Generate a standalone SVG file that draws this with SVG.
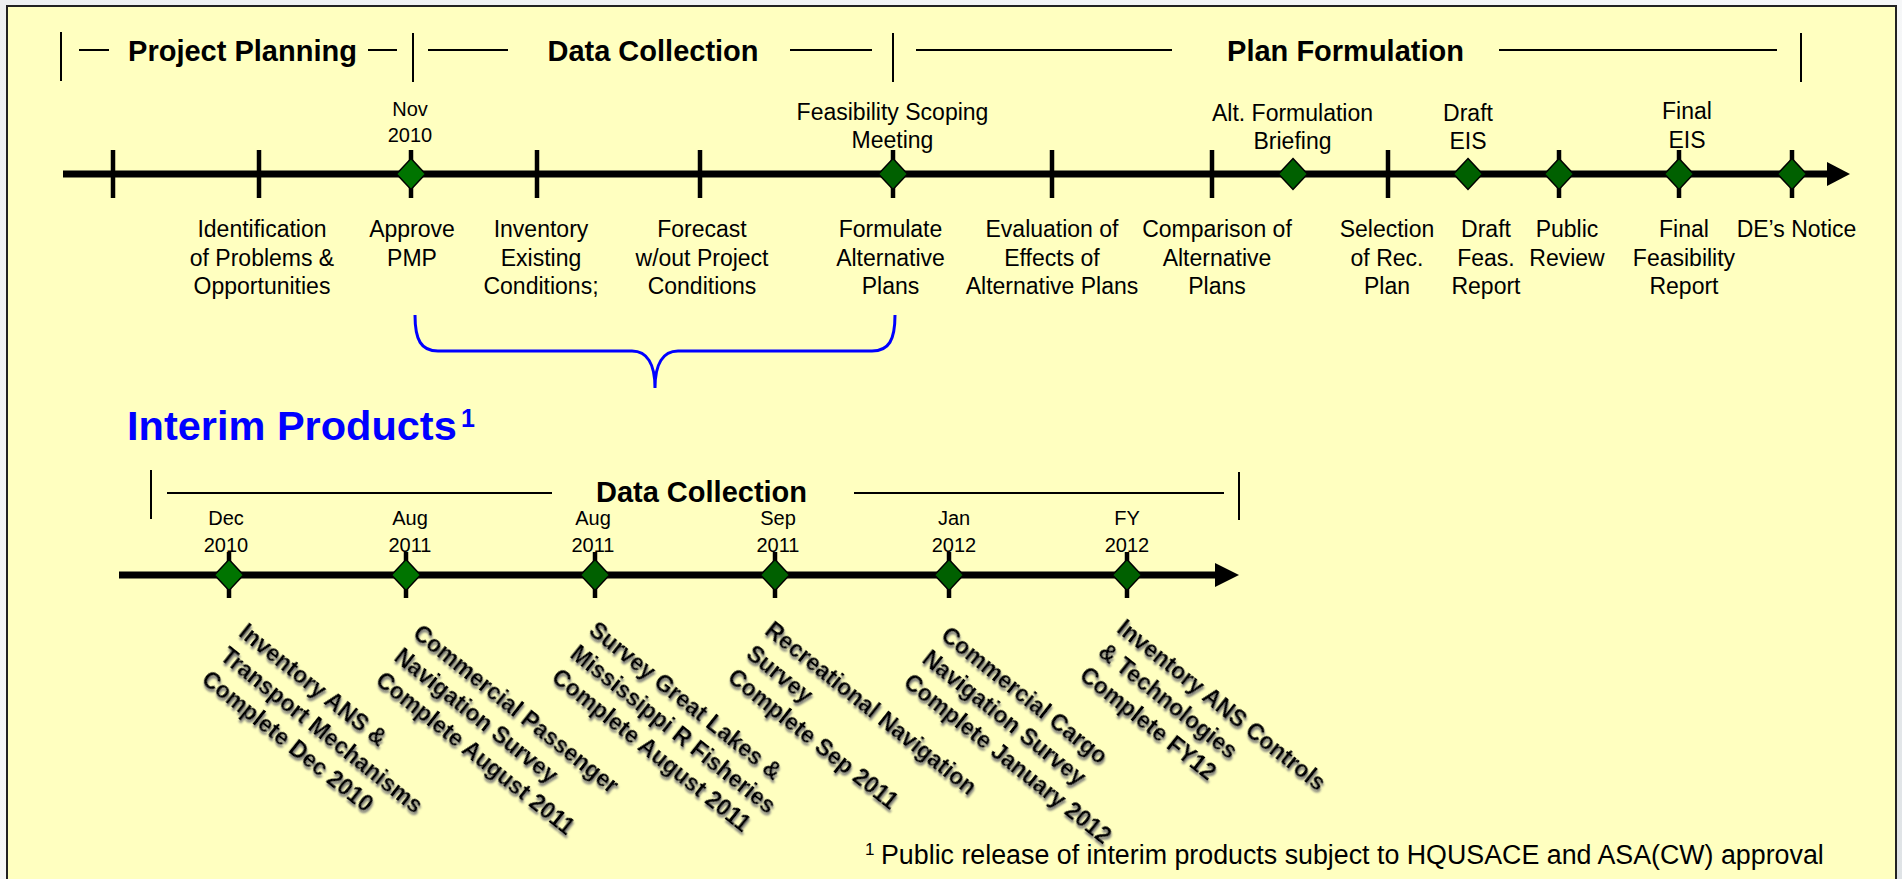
<svg xmlns="http://www.w3.org/2000/svg" xmlns:xlink="http://www.w3.org/1999/xlink" width="1902" height="879" viewBox="0 0 1902 879">
<style>
text{font-family:"Liberation Sans",Arial,sans-serif;fill:#000}
.lbl{font-size:23px;text-anchor:middle}
.date{font-size:20px;text-anchor:middle}
.hdr{font-size:29px;font-weight:bold;text-anchor:middle}
.axis{stroke:#000;stroke-width:7;fill:none}
.tick{stroke:#000;stroke-width:4.5}
.brk{stroke:#000;stroke-width:2}
.dia{fill:#006000;stroke:#000;stroke-width:1.5}
.dia2{fill:#007400;stroke:#000;stroke-width:1.5}
.rot{font-size:23px;font-weight:bold;filter:url(#sh)}
.blue{fill:#0000FF;font-weight:bold}
</style>
<defs>
<linearGradient id="bg" x1="0" y1="0" x2="1" y2="1">
<stop offset="0" stop-color="#eef0f2"/><stop offset="0.5" stop-color="#f6f7f8"/><stop offset="1" stop-color="#dfe3e6"/>
</linearGradient>
<path id="dm" d="M0,-15.5 L14.5,0 L0,15.5 L-14.5,0 Z"/>
<filter id="sh" x="-10%" y="-30%" width="130%" height="180%">
<feGaussianBlur in="SourceAlpha" stdDeviation="1.2" result="b"/>
<feOffset in="b" dx="2" dy="2" result="o"/>
<feFlood flood-color="#777"/>
<feComposite in2="o" operator="in" result="s"/>
<feMerge><feMergeNode in="s"/><feMergeNode in="SourceGraphic"/></feMerge>
</filter>
</defs>
<rect x="0" y="0" width="1902" height="879" fill="url(#bg)"/>
<rect x="7" y="6" width="1889" height="900" fill="#FFFFC0" stroke="#222" stroke-width="2"/>

<g id="connectors">
<!-- phase brackets top -->
<line class="brk" x1="61" y1="32" x2="61" y2="81"/>
<line class="brk" x1="79" y1="50" x2="109" y2="50"/>
<line class="brk" x1="368" y1="50" x2="397" y2="50"/>
<line class="brk" x1="413" y1="33" x2="413" y2="82"/>
<line class="brk" x1="428" y1="50" x2="508" y2="50"/>
<line class="brk" x1="790" y1="50" x2="872" y2="50"/>
<line class="brk" x1="893" y1="33" x2="893" y2="82"/>
<line class="brk" x1="916" y1="50" x2="1172" y2="50"/>
<line class="brk" x1="1499" y1="50" x2="1777" y2="50"/>
<line class="brk" x1="1801" y1="33" x2="1801" y2="82"/>
<!-- top axis -->
<line class="axis" x1="63" y1="174" x2="1830" y2="174"/>
<path d="M1827,162 L1850,174 L1827,186 Z" fill="#000"/>
<!-- brace -->
<path d="M415,315 C415,340 421,351 438,351 L632,351 C647,351 655,364 655,388 C655,364 663,351 678,351 L872,351 C889,351 895,340 895,315" fill="none" stroke="#0000FF" stroke-width="3"/>
<!-- lower bracket -->
<line class="brk" x1="151" y1="470" x2="151" y2="519"/>
<line class="brk" x1="167" y1="493" x2="552" y2="493"/>
<line class="brk" x1="854" y1="493" x2="1224" y2="493"/>
<line class="brk" x1="1239" y1="472" x2="1239" y2="520"/>
<!-- lower axis -->
<line class="axis" x1="119" y1="575" x2="1218" y2="575"/>
<path d="M1215,563 L1239,575 L1215,587 Z" fill="#000"/>
</g>

<g id="headers">
<text class="hdr" x="242.5" y="61">Project Planning</text>
<text class="hdr" x="653" y="61">Data Collection</text>
<text class="hdr" x="1345.5" y="61">Plan Formulation</text>
<text class="hdr" x="701.5" y="502">Data Collection</text>
</g>

<g id="m-start"><line class="tick" x1="113" y1="150" x2="113" y2="198"/></g>
<g id="m-identification">
<line class="tick" x1="259" y1="150" x2="259" y2="198"/>
<text class="lbl" y="237"><tspan x="262">Identification</tspan><tspan x="262" dy="28.5">of Problems &amp;</tspan><tspan x="262" dy="28.5">Opportunities</tspan></text>
</g>
<g id="m-approve-pmp">
<line class="tick" x1="411" y1="150" x2="411" y2="198"/>
<use href="#dm" x="411" y="174" class="dia2"/>
<text class="date" y="116"><tspan x="410">Nov</tspan><tspan x="410" dy="26">2010</tspan></text>
<text class="lbl" y="237"><tspan x="412">Approve</tspan><tspan x="412" dy="28.5">PMP</tspan></text>
</g>
<g id="m-inventory">
<line class="tick" x1="537" y1="150" x2="537" y2="198"/>
<text class="lbl" y="237"><tspan x="541">Inventory</tspan><tspan x="541" dy="28.5">Existing</tspan><tspan x="541" dy="28.5">Conditions;</tspan></text>
</g>
<g id="m-forecast">
<line class="tick" x1="700" y1="150" x2="700" y2="198"/>
<text class="lbl" y="237"><tspan x="702">Forecast</tspan><tspan x="702" dy="28.5">w/out Project</tspan><tspan x="702" dy="28.5">Conditions</tspan></text>
</g>
<g id="m-formulate">
<line class="tick" x1="893" y1="150" x2="893" y2="198"/>
<use href="#dm" x="893" y="174" class="dia"/>
<text class="lbl" y="120"><tspan x="892.5">Feasibility Scoping</tspan><tspan x="892.5" dy="28">Meeting</tspan></text>
<text class="lbl" y="237"><tspan x="890.5">Formulate</tspan><tspan x="890.5" dy="28.5">Alternative</tspan><tspan x="890.5" dy="28.5">Plans</tspan></text>
</g>
<g id="m-evaluation">
<line class="tick" x1="1052" y1="150" x2="1052" y2="198"/>
<text class="lbl" y="237"><tspan x="1052">Evaluation of</tspan><tspan x="1052" dy="28.5">Effects of</tspan><tspan x="1052" dy="28.5">Alternative Plans</tspan></text>
</g>
<g id="m-comparison">
<line class="tick" x1="1212" y1="150" x2="1212" y2="198"/>
<text class="lbl" y="237"><tspan x="1217">Comparison of</tspan><tspan x="1217" dy="28.5">Alternative</tspan><tspan x="1217" dy="28.5">Plans</tspan></text>
</g>
<g id="m-alt-briefing">
<use href="#dm" x="1293" y="174" class="dia"/>
<text class="lbl" y="121"><tspan x="1292.5">Alt. Formulation</tspan><tspan x="1292.5" dy="28">Briefing</tspan></text>
</g>
<g id="m-selection">
<line class="tick" x1="1388" y1="150" x2="1388" y2="198"/>
<text class="lbl" y="237"><tspan x="1387">Selection</tspan><tspan x="1387" dy="28.5">of Rec.</tspan><tspan x="1387" dy="28.5">Plan</tspan></text>
</g>
<g id="m-draft-eis">
<use href="#dm" x="1468" y="174" class="dia"/>
<text class="lbl" y="121"><tspan x="1468">Draft</tspan><tspan x="1468" dy="28">EIS</tspan></text>
<text class="lbl" y="237"><tspan x="1486">Draft</tspan><tspan x="1486" dy="28.5">Feas.</tspan><tspan x="1486" dy="28.5">Report</tspan></text>
</g>
<g id="m-public-review">
<line class="tick" x1="1559" y1="150" x2="1559" y2="198"/>
<use href="#dm" x="1559" y="174" class="dia"/>
<text class="lbl" y="237"><tspan x="1567">Public</tspan><tspan x="1567" dy="28.5">Review</tspan></text>
</g>
<g id="m-final-eis">
<line class="tick" x1="1679" y1="150" x2="1679" y2="198"/>
<use href="#dm" x="1679" y="174" class="dia"/>
<text class="lbl" y="118.5"><tspan x="1687">Final</tspan><tspan x="1687" dy="29">EIS</tspan></text>
<text class="lbl" y="237"><tspan x="1684">Final</tspan><tspan x="1684" dy="28.5">Feasibility</tspan><tspan x="1684" dy="28.5">Report</tspan></text>
</g>
<g id="m-de-notice">
<line class="tick" x1="1792" y1="150" x2="1792" y2="198"/>
<use href="#dm" x="1792" y="174" class="dia"/>
<text class="lbl" x="1796.5" y="237">DE’s Notice</text>
</g>

<g id="interim-title">
<text class="blue" x="127" y="440" font-size="41.5">Interim Products</text>
<text class="blue" x="461" y="427" font-size="25">1</text>
</g>

<g id="p1">
<line class="tick" x1="229" y1="552" x2="229" y2="598"/>
<use href="#dm" x="229" y="575" class="dia2"/>
<text class="date" y="525"><tspan x="226">Dec</tspan><tspan x="226" dy="26.5">2010</tspan></text>
<text class="rot" transform="translate(237.5,635) rotate(38.5)"><tspan x="0" y="0">Inventory ANS &amp;</tspan><tspan x="0" dy="30">Transport Mechanisms</tspan><tspan x="0" dy="30">Complete Dec 2010</tspan></text>
</g>
<g id="p2">
<line class="tick" x1="406" y1="552" x2="406" y2="598"/>
<use href="#dm" x="406" y="575" class="dia2"/>
<text class="date" y="525"><tspan x="410">Aug</tspan><tspan x="410" dy="26.5">2011</tspan></text>
<text class="rot" transform="translate(411.5,636) rotate(38.5)"><tspan x="0" y="0">Commercial Passenger</tspan><tspan x="0" dy="30">Navigation Survey</tspan><tspan x="0" dy="30">Complete August 2011</tspan></text>
</g>
<g id="p3">
<line class="tick" x1="595" y1="552" x2="595" y2="598"/>
<use href="#dm" x="595" y="575" class="dia"/>
<text class="date" y="525"><tspan x="593">Aug</tspan><tspan x="593" dy="26.5">2011</tspan></text>
<text class="rot" transform="translate(587.5,633) rotate(38.5)"><tspan x="0" y="0">Survey Great Lakes &amp;</tspan><tspan x="0" dy="30">Mississippi R Fisheries</tspan><tspan x="0" dy="30">Complete August 2011</tspan></text>
</g>
<g id="p4">
<line class="tick" x1="775" y1="552" x2="775" y2="598"/>
<use href="#dm" x="775" y="575" class="dia"/>
<text class="date" y="525"><tspan x="778">Sep</tspan><tspan x="778" dy="26.5">2011</tspan></text>
<text class="rot" transform="translate(763.5,633) rotate(38.5)"><tspan x="0" y="0">Recreational Navigation</tspan><tspan x="0" dy="30">Survey</tspan><tspan x="0" dy="30">Complete Sep 2011</tspan></text>
</g>
<g id="p5">
<line class="tick" x1="949" y1="552" x2="949" y2="598"/>
<use href="#dm" x="949" y="575" class="dia"/>
<text class="date" y="525"><tspan x="954">Jan</tspan><tspan x="954" dy="26.5">2012</tspan></text>
<text class="rot" transform="translate(939.5,638) rotate(38.5)"><tspan x="0" y="0">Commercial Cargo</tspan><tspan x="0" dy="30">Navigation Survey</tspan><tspan x="0" dy="30">Complete January 2012</tspan></text>
</g>
<g id="p6">
<line class="tick" x1="1127" y1="552" x2="1127" y2="598"/>
<use href="#dm" x="1127" y="575" class="dia"/>
<text class="date" y="525"><tspan x="1127">FY</tspan><tspan x="1127" dy="26.5">2012</tspan></text>
<text class="rot" transform="translate(1115.5,631) rotate(38.5)"><tspan x="0" y="0">Inventory ANS Controls</tspan><tspan x="0" dy="30">&amp; Technologies</tspan><tspan x="0" dy="30">Complete FY12</tspan></text>
</g>

<g id="footnote">
<text x="865" y="855" font-size="17">1</text>
<text x="881" y="864" font-size="26.8">Public release of interim products subject to HQUSACE and ASA(CW) approval</text>
</g>
</svg>
